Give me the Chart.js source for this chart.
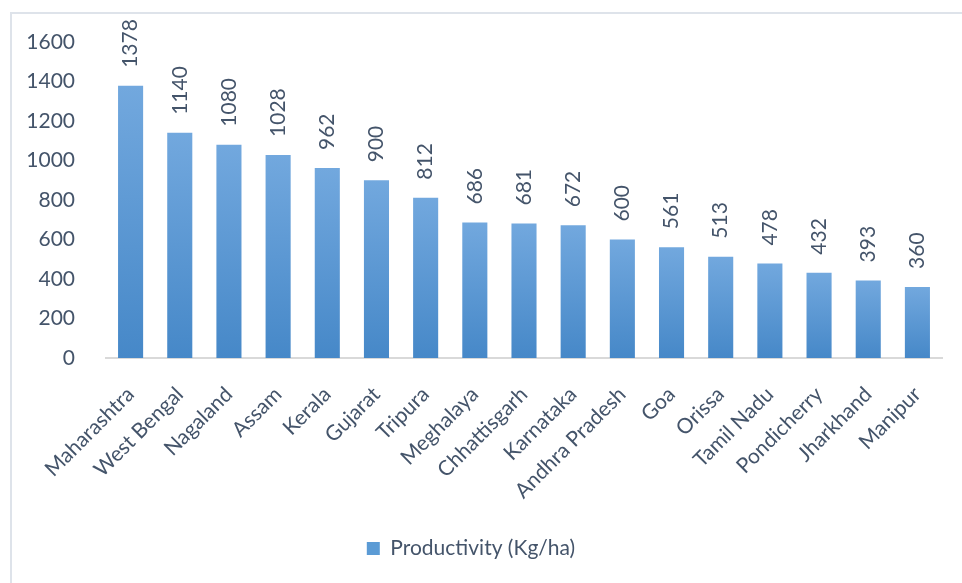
<!DOCTYPE html>
<html>
<head>
<meta charset="utf-8">
<script src="https://cdn.jsdelivr.net/npm/chart.js@4"></script>
<style>
  html, body { margin: 0; padding: 0; background: #fff; overflow: hidden; }
  #wrap { position: relative; width: 962px; height: 583px; }
  #frame {
    position: absolute; left: 10px; top: 12px; width: 980px; height: 600px;
    border: 2px solid #DEE3EA; box-sizing: border-box; pointer-events: none;
  }
  canvas { position: absolute; left: 0; top: 0; }
</style>
</head>
<body>
<div id="wrap">
  <div id="frame"></div>
  <canvas id="chart" width="962" height="583"></canvas>
</div>
<script>
const states = ["Maharashtra", "West Bengal", "Nagaland", "Assam", "Kerala", "Gujarat", "Tripura",
  "Meghalaya", "Chhattisgarh", "Karnataka", "Andhra Pradesh", "Goa", "Orissa", "Tamil Nadu",
  "Pondicherry", "Jharkhand", "Manipur"];
const productivity = [1378, 1140, 1080, 1028, 962, 900, 812, 686, 681, 672, 600, 561, 513, 478, 432, 393, 360];
const yTicks = [0, 200, 400, 600, 800, 1000, 1200, 1400, 1600];

const textColor = "#44546A";
const font = { family: "Lato", size: 21 };

// light at the top of each bar, darker towards the axis
const barFill = ctx => {
    const chart = ctx.chart;
    if (!chart.chartArea || ctx.raw === undefined) return "#5B9BD5";
    const yScale = chart.scales.y;
    const top = yScale.getPixelForValue(ctx.raw);
    const bottom = yScale.getPixelForValue(0);
    const g = chart.ctx.createLinearGradient(0, top, 0, bottom);
    g.addColorStop(0, "#72A8DE");
    g.addColorStop(1, "#4688C8");
    return g;
};

const valueLabels = {
    id: "valueLabels",
    afterDatasetsDraw(chart) {
        const c = chart.ctx;
        const meta = chart.getDatasetMeta(0);
        c.save();
        c.fillStyle = textColor;
        c.font = `${font.size}px ${font.family}`;
        c.textAlign = "left";
        c.textBaseline = "middle";
        meta.data.forEach((bar, i) => {
            c.save();
            c.translate(bar.x, bar.y - 18);
            c.rotate(-Math.PI / 2);
            c.fillText(String(productivity[i]), 0, 0);
            c.restore();
        });
        c.restore();
    }
};

new Chart(document.getElementById("chart"), {
    type: "bar",
    data: {
        labels: states,
        datasets: [{
            label: "Productivity (Kg/ha)",
            data: productivity,
            backgroundColor: barFill,
            categoryPercentage: 1,
            barPercentage: 0.51
        }]
    },
    options: {
        responsive: false,
        animation: false,
        layout: { padding: { top: 42, right: 20, bottom: 14, left: 0 } },
        plugins: {
            legend: {
                position: "bottom",
                labels: {
                    color: textColor,
                    font: font,
                    boxWidth: 13,
                    boxHeight: 13,
                    padding: 10,
                    generateLabels: chart => [{
                        text: chart.data.datasets[0].label,
                        fillStyle: "#5B9BD5",
                        strokeStyle: "#5B9BD5",
                        lineWidth: 0,
                        fontColor: textColor,
                        datasetIndex: 0
                    }]
                }
            },
            tooltip: { enabled: false }
        },
        scales: {
            y: {
                min: 0,
                max: 1600,
                afterBuildTicks: scale => { scale.ticks = yTicks.map(v => ({ value: v })); },
                afterFit: scale => { scale.width = 106; },
                grid: { display: false },
                border: { display: false },
                ticks: { color: textColor, font: font, padding: 23, callback: v => String(v) }
            },
            x: {
                afterFit: scale => { scale.height = 170; },
                grid: { display: false },
                border: { display: true, color: "#D9D9D9", width: 2 },
                ticks: { color: textColor, font: font, minRotation: 45, maxRotation: 45, padding: 16, autoSkip: false }
            }
        }
    },
    plugins: [valueLabels]
});
</script>
</body>
</html>
